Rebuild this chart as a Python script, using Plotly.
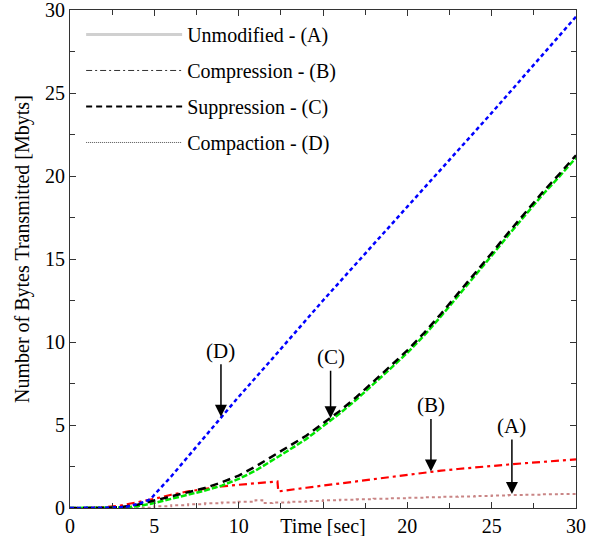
import plotly.graph_objects as go

# ---------------- data ----------------
t_a = [0, 1, 2, 3, 4, 5, 6, 7, 8, 9, 10, 11, 11.4, 12, 13, 14, 15, 16, 17, 18, 19, 20,
       21, 22, 23, 24, 25, 26, 27, 28, 29, 30]
y_a = [0, 0, 0, 0, 0.02, 0.1, 0.17, 0.23, 0.28, 0.33, 0.38, 0.46, 0.3, 0.33, 0.38, 0.42,
       0.46, 0.5, 0.53, 0.56, 0.59, 0.62, 0.65, 0.68, 0.7, 0.73, 0.76, 0.78, 0.8, 0.83,
       0.85, 0.88]

t_b = [0, 1, 2, 3, 4, 5, 6, 7, 8, 9, 10, 11, 12, 12.3, 12.35, 13, 14, 15, 16, 17, 18,
       19, 20, 21, 22, 23, 24, 25, 26, 27, 28, 29, 30]
y_b = [0, 0, 0.05, 0.15, 0.35, 0.55, 0.8, 1.0, 1.15, 1.3, 1.4, 1.5, 1.58, 1.6, 1.0,
       1.1, 1.22, 1.35, 1.48, 1.62, 1.75, 1.88, 2.0, 2.13, 2.25, 2.35, 2.45, 2.55, 2.62,
       2.7, 2.78, 2.85, 2.93]

t_c = [0, 1, 2, 3, 4, 5, 6, 7, 8, 9, 10, 11, 12, 13, 14, 15, 16, 17, 18, 19, 20, 21,
       22, 23, 24, 25, 26, 27, 28, 29, 30]
y_c = [0, 0, 0, 0.05, 0.2, 0.45, 0.7, 0.92, 1.2, 1.55, 1.95, 2.5, 3.1, 3.7, 4.35, 5.1,
       5.85, 6.7, 7.6, 8.55, 9.5, 10.55, 11.7, 12.9, 14.1, 15.35, 16.6, 17.8, 19.0,
       20.1, 21.25]
y_c2 = [0, 0, 0, 0.03, 0.1, 0.3, 0.55, 0.8, 1.05, 1.35, 1.75, 2.25, 2.85, 3.5, 4.15,
        4.9, 5.7, 6.55, 7.45, 8.4, 9.35, 10.4, 11.55, 12.75, 13.95, 15.2, 16.45, 17.65,
        18.85, 19.95, 21.1]

t_d = [0, 1, 2, 3, 3.5, 4, 4.5, 4.8, 5, 6, 7, 8, 9, 10, 12, 15, 20, 25, 30]
y_d = [0, 0, 0.02, 0.05, 0.1, 0.25, 0.4, 0.55, 0.8, 1.9, 3.1, 4.3, 5.5, 6.7, 9.0,
       12.5, 18.15, 23.8, 29.6]

legend_names = ["Unmodified - (A)", "Compression - (B)", "Suppression - (C)",
                "Compaction - (D)"]
arrow_labels = ["(D)", "(C)", "(B)", "(A)"]
arrow_x = [8.95, 15.45, 21.4, 26.2]
arrow_y = [5.5, 5.4, 2.2, 0.85]

x_ticks = [0, 5, 10, 15, 20, 25, 30]
x_ticktext = ["0", "5", "10", "Time [sec]", "20", "25", "30"]
y_ticks = [0, 5, 10, 15, 20, 25, 30]
y_ticktext = ["0", "5", "10", "15", "20", "25", "30"]

FONT = "Liberation Serif, Times New Roman, serif"

fig = go.Figure()

# plotted curves (no legend)
fig.add_trace(go.Scatter(x=t_a, y=y_a, mode="lines", line_shape="hv",
                         line=dict(color="#c98585", width=2, dash="dot"),
                         showlegend=False))
fig.add_trace(go.Scatter(x=t_b, y=y_b, mode="lines",
                         line=dict(color="#ff0000", width=2.2, dash="8px,4px,3px,4px"),
                         showlegend=False))
fig.add_trace(go.Scatter(x=t_c, y=y_c2, mode="lines",
                         line=dict(color="#00e600", width=2.5, dash="6px,2px"),
                         showlegend=False))
fig.add_trace(go.Scatter(x=t_c, y=y_c, mode="lines",
                         line=dict(color="#000000", width=2.5, dash="8px,5px"),
                         showlegend=False))
fig.add_trace(go.Scatter(x=t_d, y=y_d, mode="lines",
                         line=dict(color="#0000ff", width=2.5, dash="4px,3px"),
                         showlegend=False))

# legend-only entries
leg_styles = [
    dict(color="#d0d0d0", width=3, dash="solid"),
    dict(color="#333333", width=1, dash="6px,3px,2px,3px"),
    dict(color="#000000", width=2, dash="6px,4px"),
    dict(color="#555555", width=1, dash="1px,1px"),
]
for i, (nm, st) in enumerate(zip(legend_names, leg_styles)):
    fig.add_trace(go.Scatter(x=[None], y=[None], mode="lines", name=nm, line=st,
                             legendgroup=f"g{i}", showlegend=True))

# arrows
offs = [-66, -61, -66, -68]
for lab, ax_, ay_, off in zip(arrow_labels, arrow_x, arrow_y, offs):
    fig.add_annotation(x=ax_, y=ay_, text=lab, showarrow=True, ax=0, ay=off,
                       arrowhead=2, arrowsize=1.6, arrowwidth=1.5, arrowcolor="#000",
                       font=dict(family=FONT, size=21, color="#000"))

fig.add_annotation(text="Number of Bytes Transmitted [Mbyts]", textangle=-90,
                   x=-0.095, xref="paper", y=0.52, yref="paper", showarrow=False,
                   xanchor="center", yanchor="middle",
                   font=dict(family=FONT, size=20, color="#000"))

axis_common = dict(range=[0, 30], showgrid=False, zeroline=False, showline=True,
                   linecolor="#333", linewidth=1, mirror="ticks", ticks="inside",
                   ticklen=6, tickcolor="#333", tickwidth=1,
                   ticklabeloverflow="allow", automargin=False,
                   tickfont=dict(family=FONT, size=20, color="#000"),
                   minor=dict(ticks="inside", ticklen=5, dtick=2.5, tickcolor="#333",
                              showgrid=False))

fig.update_xaxes(**axis_common, tickvals=x_ticks, ticktext=x_ticktext)
fig.update_yaxes(**axis_common, tickvals=y_ticks, ticktext=y_ticktext)

fig.update_layout(
    width=596, height=536,
    margin=dict(l=70, r=20, t=10, b=28, autoexpand=False),
    plot_bgcolor="white", paper_bgcolor="white",
    font=dict(family=FONT, color="#000"),
    legend=dict(x=0.022, y=0.99, xanchor="left", yanchor="top",
                bgcolor="rgba(0,0,0,0)", borderwidth=0,
                font=dict(family=FONT, size=20, color="#000"),
                tracegroupgap=7, itemwidth=96),
)

fig.write_html("out.html")
